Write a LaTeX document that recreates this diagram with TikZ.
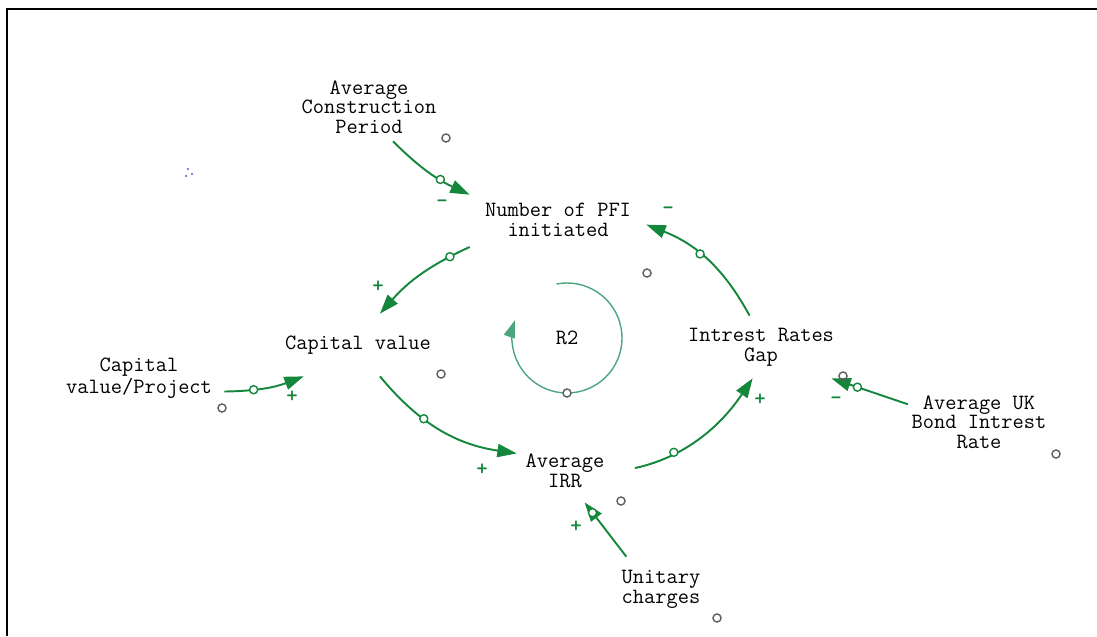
\documentclass[tikz,border=0pt]{standalone}
\usepackage{fontspec}
\usepackage{xcolor}
\definecolor{linkgreen}{RGB}{20, 135, 60}
\definecolor{loopgreen}{RGB}{75, 165, 125}
\definecolor{markgrey}{RGB}{95, 95, 95}
\definecolor{dotblue}{RGB}{80, 80, 230}
\usepackage{tikz}
\usetikzlibrary{arrows.meta, positioning}
\newcommand{\varfont}{\ttfamily\fontsize{12.4}{11.2}\selectfont}
\tikzstyle{var} = [align=center, font=\varfont, text=black, inner sep=2pt]
\tikzstyle{link} = [draw=linkgreen, line width=1.1pt, -{Triangle[length=11pt, width=7.5pt]}]
\tikzstyle{looparc} = [draw=loopgreen, line width=0.8pt, -{Triangle[length=10pt, width=6.5pt]}]
\tikzstyle{handle} = [circle, draw=linkgreen, fill=white, line width=0.8pt, inner sep=0pt, minimum size=4.6pt]
\tikzstyle{loophandle} = [circle, draw=markgrey, fill=white, line width=0.8pt, inner sep=0pt, minimum size=4.6pt]
\tikzstyle{posmark} = [circle, draw=markgrey, line width=0.8pt, inner sep=0pt, minimum size=4.6pt]
\tikzstyle{sign} = [font=\varfont\bfseries, text=linkgreen, inner sep=0pt]

\begin{document}
\begin{tikzpicture}[x=0.02cm, y=0.02cm]
    \useasboundingbox (0,0) rectangle (1097,-636);
    \draw[line width=0.9pt] (7,-636) |- (1097,-9);

    % variables
    \node[var, minimum height=1.36cm] (period) at (369,-107) {Average\\Construction\\Period};
    \node[var, minimum width=3.52cm, minimum height=1.08cm] (pfi) at (558,-220) {Number of PFI\\initiated};
    \node[var, minimum height=1.24cm] (capital) at (358,-345) {Capital value};
    \node[var, minimum width=3.4cm] (project) at (139,-378) {Capital\\value/Project};
    \node[var, minimum width=1.92cm, minimum height=1.24cm] (irr) at (565,-471) {Average\\IRR};
    \node[var, minimum height=1.24cm] (gap) at (761,-347) {Intrest Rates\\Gap};
    \node[var] (bond) at (979,-422) {Average UK\\Bond Intrest\\Rate};
    \node[var, minimum height=1.28cm] (unitary) at (661,-589) {Unitary\\charges};
    \node[var] (r2) at (567,-338) {R2};

    % links
    \draw[link] (period.-55) to[bend right=10] node[handle, pos=.66] (h1) {} (pfi.164);
    \draw[link] (pfi.197) to[bend right=12] node[handle, pos=.18] (h2) {} (capital.55);
    \draw[link] (project.-9) to[bend right=10] node[handle, pos=.35] (h3) {} (capital.210);
    \draw[link] (capital.-55) to[bend right=21] node[handle, pos=.37] (h4) {} (irr.160);
    \draw[link, shorten <=0.44cm] (irr.-2) to[bend right=22] node[handle, pos=.36] (h5) {} (gap.-105);
    \draw[link] (gap.110) to[bend right=20] node[handle, pos=.57] (h6) {} (pfi.-3);
    \draw[link] (bond.166) -- node[handle, pos=.66] (h7) {} (gap.-24);
    \draw[link] (unitary.137) -- node[handle, pos=.81] (h8) {} (irr.-58);

    % loop R2
    \draw[looparc] (r2.center) ++(101:55) arc[start angle=101, end angle=-199, radius=55];
    \path (r2.center) ++(-90:55) node[loophandle] (h0) {};

    % polarities
    \node[sign] (s1) at (442,-204) {-};
    \node[sign] (s2) at (378,-287) {+};
    \node[sign] (s3) at (292,-397) {+};
    \node[sign] (s4) at (482,-470) {+};
    \node[sign] (s5) at (760,-400) {+};
    \node[sign] (s6) at (668,-211) {-};
    \node[sign] (s7) at (836,-401) {-};
    \node[sign] (s8) at (576,-527) {+};

    % position markers
    \node[posmark] (m1) at (446,-138) {};
    \node[posmark] (m2) at (647,-273) {};
    \node[posmark] (m3) at (441,-374) {};
    \node[posmark] (m4) at (222,-408) {};
    \node[posmark] (m5) at (621,-501) {};
    \node[posmark] (m6) at (1056,-454) {};
    \node[posmark] (m7) at (717,-618) {};
    \node[posmark] (m8) at (843,-376) {};

    \fill[dotblue] (188,-169) circle (1.2) (186,-176) circle (1.2) (192,-174) circle (1.2);
\end{tikzpicture}
\end{document}
